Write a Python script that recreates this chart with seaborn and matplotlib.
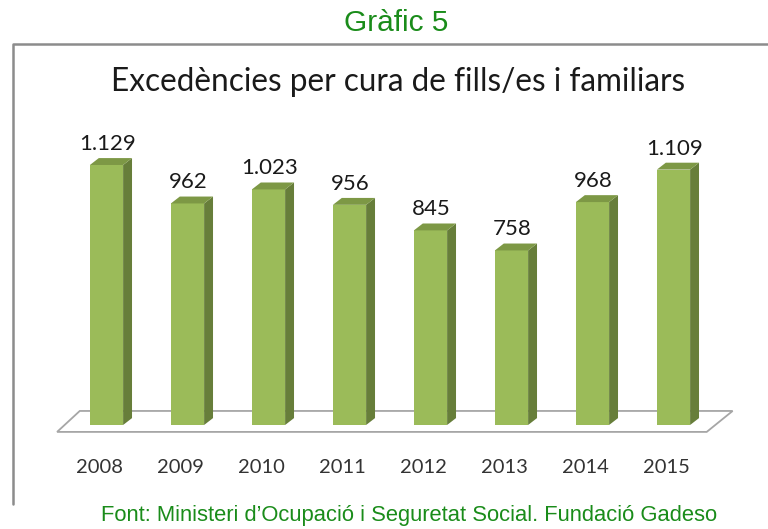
import numpy as np
import pandas as pd
import seaborn as sns
import matplotlib.pyplot as plt
from matplotlib.patches import Polygon
from matplotlib.lines import Line2D
from matplotlib import transforms

# data
years = ["2008", "2009", "2010", "2011", "2012", "2013", "2014", "2015"]
values = [1129, 962, 1023, 956, 845, 758, 968, 1109]
labels = ["1.129", "962", "1.023", "956", "845", "758", "968", "1.109"]

df = pd.DataFrame({"year": years, "value": values})

sns.set_theme(style="white")
plt.rcParams["font.family"] = ["Lato", "DejaVu Sans"]

W, H = 768, 529
fig = plt.figure(figsize=(W / 100, H / 100), dpi=100)

# axes placed in pixels: left 40, right 760, top 120, bottom 440
ax = fig.add_axes([40 / W, 1 - 440 / H, 720 / W, 320 / H])

front = "#9bbb59"
side = "#677e3a"
top = "#7d9845"

sns.barplot(data=df, x="year", y="value", color=front, width=0.41,
            saturation=1, ax=ax, zorder=3)

dx, dy = 0.11, 30  # 3D depth offsets

ax.set_xlim((40 - 106.5) / 81, (760 - 106.5) / 81)
ax.set_ylim(-15 / 0.2303, 305 / 0.2303)

# floor
n = len(years)
floor = Polygon([(-0.61, -30), (n - 1 + 0.41, -30),
                 (n - 1 + 0.73, 61), (-0.33, 61)],
                closed=True, facecolor="white", edgecolor="#a6a6a6",
                linewidth=1.3, zorder=1)
ax.add_patch(floor)

for bar, lab in zip(ax.patches, labels):
    x0 = bar.get_x()
    w = bar.get_width()
    h = bar.get_height()
    bar.set_edgecolor("none")
    ax.add_patch(Polygon([(x0 + w, 0), (x0 + w + dx, dy), (x0 + w + dx, h + dy),
                          (x0 + w, h)], closed=True, facecolor=side,
                         edgecolor="none", zorder=3))
    ax.add_patch(Polygon([(x0, h), (x0 + w, h), (x0 + w + dx, h + dy),
                          (x0 + dx, h + dy)], closed=True, facecolor=top,
                         edgecolor="none", zorder=3))
    ax.text(x0 + w / 2 + 0.01, h + 48, lab, ha="center", va="bottom",
            fontsize=16, color="#1a1a1a")

ax.set_xlabel("")
ax.set_ylabel("")
ax.set_yticks([])
ax.tick_params(axis="x", length=0, pad=14, labelsize=14.5, labelcolor="#333333")
shift = transforms.ScaledTranslation(-7 / 100, 0, fig.dpi_scale_trans)
for lbl in ax.get_xticklabels():
    lbl.set_transform(lbl.get_transform() + shift)
sns.despine(ax=ax, left=True, bottom=True)

# inner title
fig.text(398 / W, 1 - 82 / H, "Excedències per cura de fills/es i familiars",
         ha="center", va="center", fontsize=22.7, color="#1a1a1a")

# outer header and source
green = "#1a8c1a"
fig.text(396 / W, 1 - 23 / H, "Gràfic 5", ha="center", va="center",
         fontsize=21.5, color=green, family="Liberation Sans")
fig.text(409 / W, 1 - 516 / H,
         "Font: Ministeri d\u2019Ocupació i Seguretat Social. Fundació Gadeso",
         ha="center", va="center", fontsize=15.8, color=green,
         family="Liberation Sans")

# frame lines
fig.add_artist(Line2D([12.5 / W, 12.5 / W, 1.0], [1 - 504 / H, 1 - 44 / H, 1 - 44 / H],
                      color="#8c8c8c", linewidth=1.8))

fig.savefig("out.png", dpi=100)
